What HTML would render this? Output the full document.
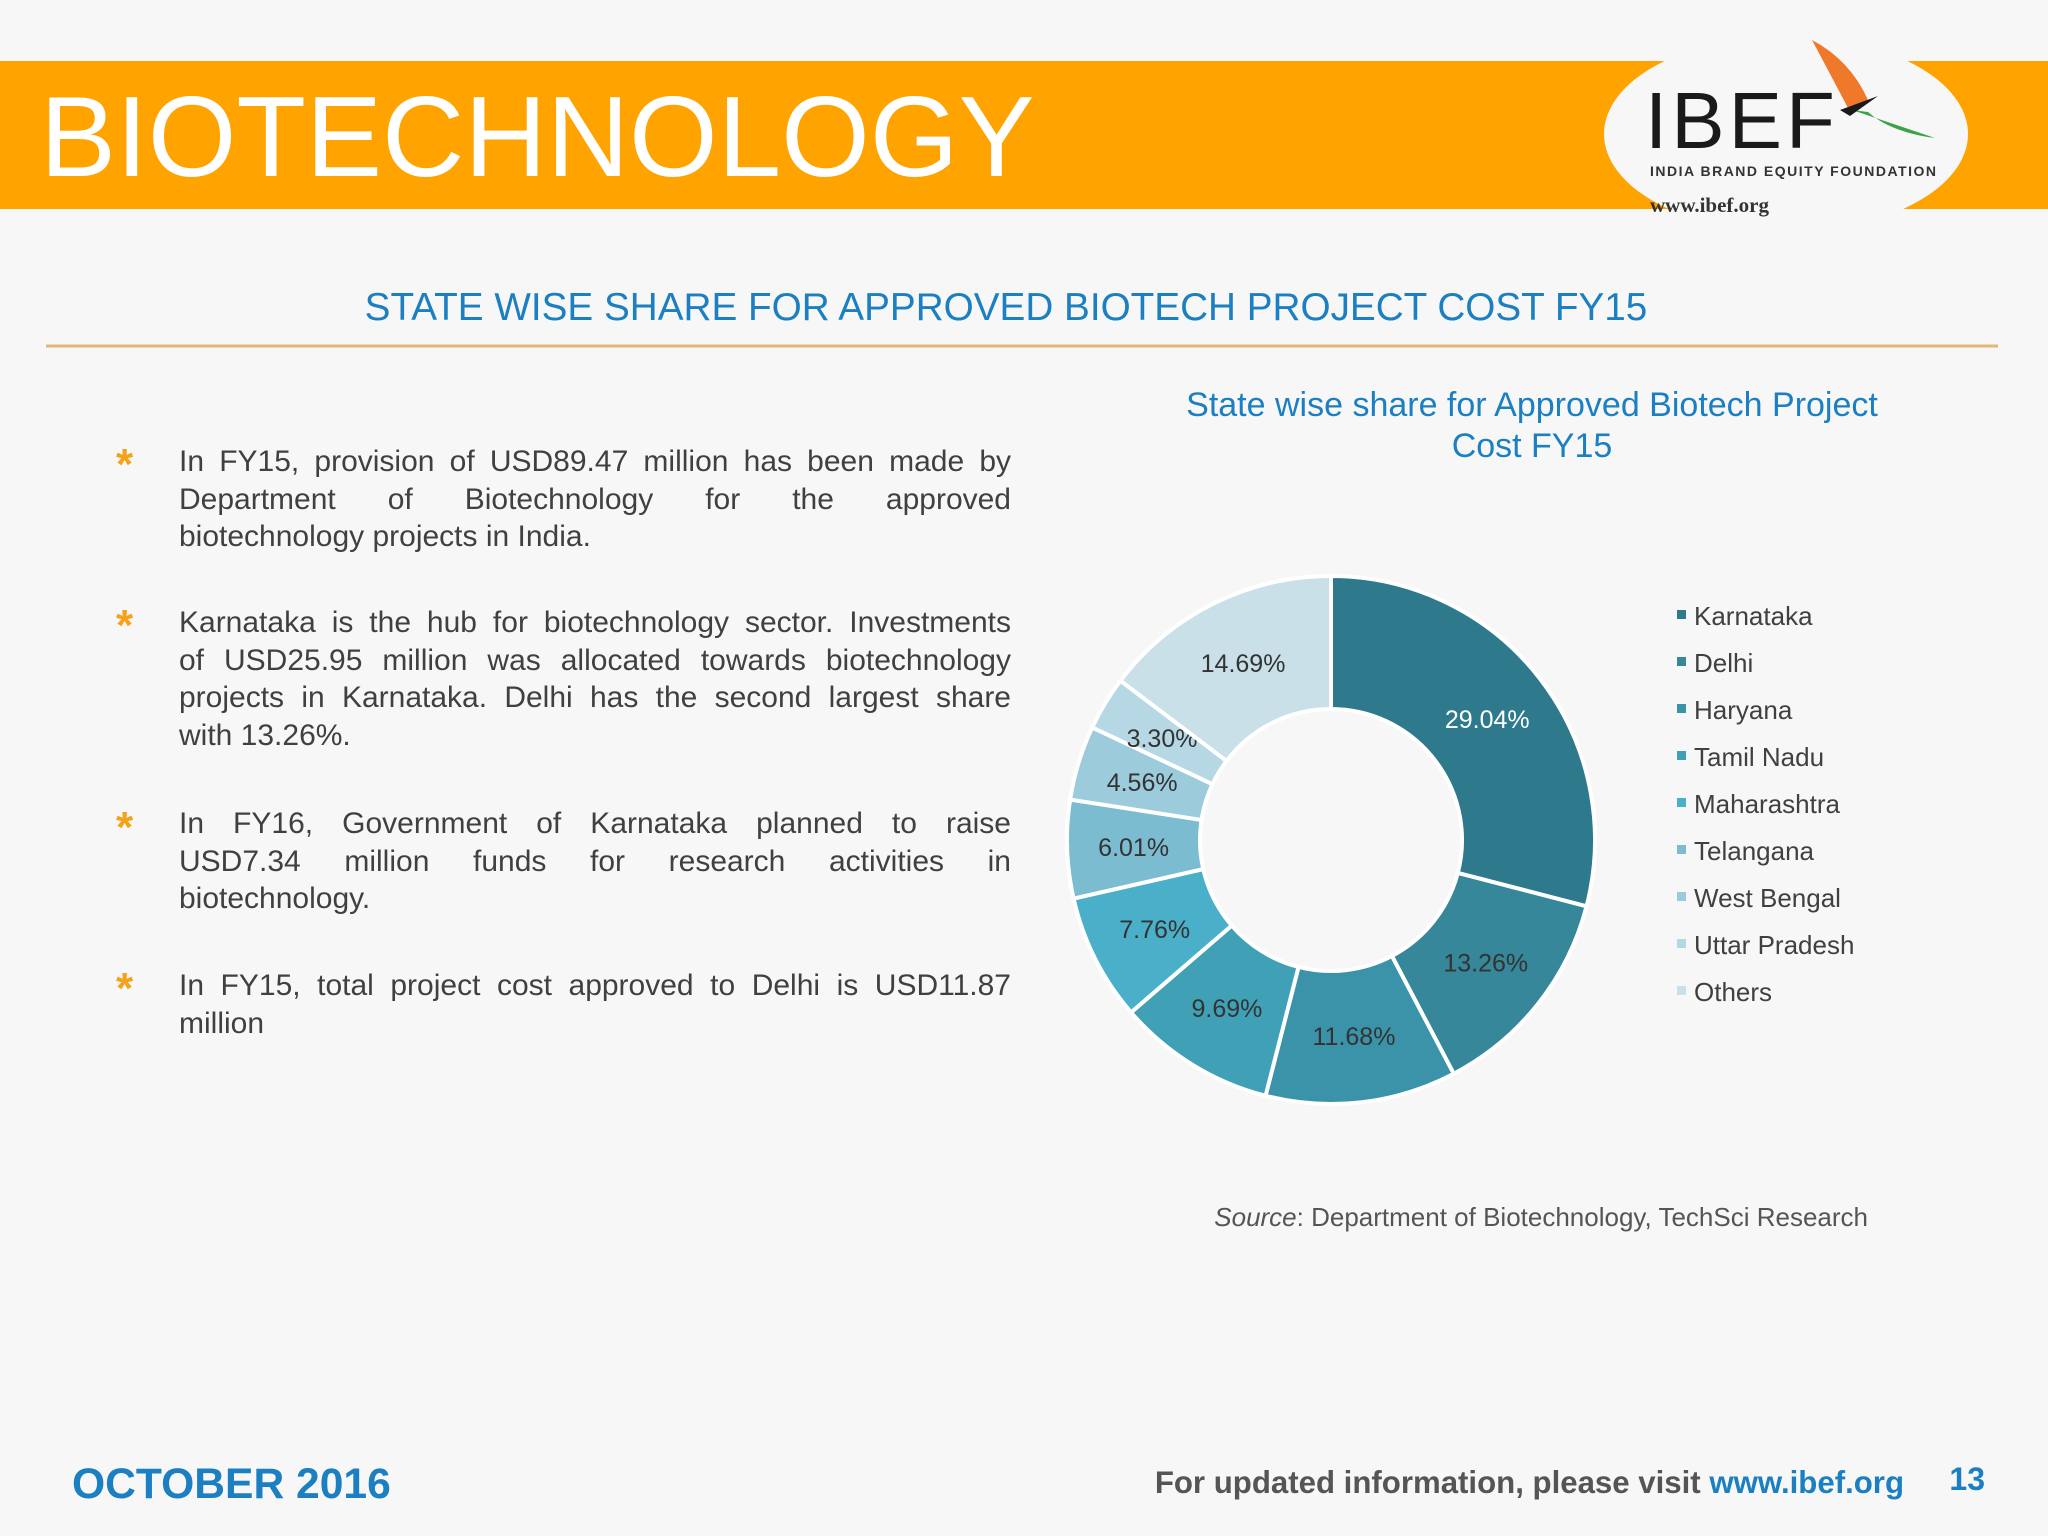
<!DOCTYPE html>
<html><head><meta charset="utf-8">
<style>
body{margin:0;background:#f7f7f8;}
#page{position:relative;width:2048px;height:1536px;overflow:hidden;background:#f7f7f8;font-family:"Liberation Sans",Arial,sans-serif;}
.bul{position:absolute;left:179px;width:832px;font-size:30px;line-height:37.5px;color:#404040;}
.bul div{text-align:justify;text-align-last:justify;white-space:nowrap;}
.bul div.last{text-align-last:left;}
.ast{position:absolute;left:116px;font-size:44px;color:#f5a21b;font-weight:bold;}
</style></head><body>
<div id="page">
<svg width="2048" height="1536" style="position:absolute;left:0;top:0">
  <rect x="0" y="61" width="2048" height="148" fill="#ffa300"/>
  <ellipse cx="1786" cy="134" rx="182" ry="98" fill="#f7f7f8"/>
  <text x="40" y="176" font-size="114" fill="#ffffff" font-family="Liberation Sans, sans-serif">BIOTECHNOLOGY</text>
  <text x="1645" y="148" font-size="80" fill="#1a1a1a" letter-spacing="4" font-family="Liberation Sans, sans-serif">IBEF</text>
  <path d="M1812 40 Q1850 60 1868 100 L1848 108 Q1828 70 1812 40Z" fill="#f0782a"/>
  <path d="M1852 110 L1935 138 Q1890 132 1868 112Z" fill="#3aa346"/>
  <path d="M1840 110 L1878 96 L1850 116Z" fill="#1a1a1a"/>
  <text x="1650" y="176" font-size="14" font-weight="bold" fill="#333" letter-spacing="1.5">INDIA BRAND EQUITY FOUNDATION</text>
  <text x="1650" y="212" font-size="21" font-weight="bold" fill="#333" font-family="Liberation Serif, serif">www.ibef.org</text>
  <text x="1006" y="320" font-size="38.7" fill="#1b7fc1" text-anchor="middle">STATE WISE SHARE FOR APPROVED BIOTECH PROJECT COST FY15</text>
  <line x1="46" y1="346" x2="1998" y2="346" stroke="#e2b874" stroke-width="3"/>
  <text x="1532" y="416" font-size="34" fill="#1b7fc1" text-anchor="middle">State wise share for Approved Biotech Project</text>
  <text x="1532" y="457" font-size="34" fill="#1b7fc1" text-anchor="middle">Cost FY15</text>
  <g id="donut"></g>
  <g id="legend"></g>
  <text x="1868" y="1226" font-size="26" fill="#555" text-anchor="end"><tspan font-style="italic">Source</tspan>: Department of Biotechnology, TechSci Research</text>
  <text x="72" y="1498" font-size="42.6" font-weight="bold" fill="#1b7fc1">OCTOBER 2016</text>
  <text x="1904" y="1493" font-size="31.2" font-weight="bold" fill="#555" text-anchor="end">For updated information, please visit <tspan fill="#1b7fc1">www.ibef.org</tspan></text>
  <text x="1985" y="1490" font-size="32" font-weight="bold" fill="#1b7fc1" text-anchor="end">13</text>
</svg>
<div class="ast" style="top:440px">*</div>
<div class="bul" style="top:443px"><div>In FY15, provision of USD89.47 million has been made by</div><div>Department of Biotechnology for the approved</div><div class="last">biotechnology projects in India.</div></div>
<div class="ast" style="top:601px">*</div>
<div class="bul" style="top:604px"><div>Karnataka is the hub for biotechnology sector. Investments</div><div>of USD25.95 million was allocated towards biotechnology</div><div>projects in Karnataka. Delhi has the second largest share</div><div class="last">with 13.26%.</div></div>
<div class="ast" style="top:803px">*</div>
<div class="bul" style="top:805px"><div>In FY16, Government of Karnataka planned to raise</div><div>USD7.34 million funds for research activities in</div><div class="last">biotechnology.</div></div>
<div class="ast" style="top:964px">*</div>
<div class="bul" style="top:967px"><div>In FY15, total project cost approved to Delhi is USD11.87</div><div class="last">million</div></div>
</div>
<script>
const categories = ["Karnataka","Delhi","Haryana","Tamil Nadu","Maharashtra","Telangana","West Bengal","Uttar Pradesh","Others"];
const shares = [29.04,13.26,11.68,9.69,7.76,6.01,4.56,3.30,14.69];
const labels = ["29.04%","13.26%","11.68%","9.69%","7.76%","6.01%","4.56%","3.30%","14.69%"];
const colors = ["#2e7a8c","#358799","#3a93a8","#40a0b6","#4aafc8","#7bbcd0","#9ccbdc","#b5d8e4","#c9e0e8"];
const NS="http://www.w3.org/2000/svg";
const cx=1331, cy=840, R=264, r=131;
const total=shares.reduce((a,b)=>a+b,0);
function ang(v){return v/total*2*Math.PI - Math.PI/2;}
function pt(a,rad){return [cx+rad*Math.cos(a), cy+rad*Math.sin(a)];}
const g=document.getElementById('donut');
let acc=0;
shares.forEach((v,i)=>{
  const a0=ang(acc), a1=ang(acc+v); acc+=v;
  const large=(a1-a0)>Math.PI?1:0;
  const p0=pt(a0,R),p1=pt(a1,R),q1=pt(a1,r),q0=pt(a0,r);
  const p=document.createElementNS(NS,'path');
  p.setAttribute('d',`M${p0[0]} ${p0[1]} A${R} ${R} 0 ${large} 1 ${p1[0]} ${p1[1]} L${q1[0]} ${q1[1]} A${r} ${r} 0 ${large} 0 ${q0[0]} ${q0[1]}Z`);
  p.setAttribute('fill',colors[i]);
  p.setAttribute('stroke','#ffffff');
  p.setAttribute('stroke-width','4');
  
  
  g.appendChild(p);
  const m=(a0+a1)/2, lp=pt(m,(R+r)/2);
  const t=document.createElementNS(NS,'text');
  t.setAttribute('x',lp[0]); t.setAttribute('y',lp[1]+9);
  t.setAttribute('text-anchor','middle'); t.setAttribute('font-size','25');
  t.setAttribute('fill', i===0?'#ffffff':'#333333');
  t.textContent=labels[i];
  
  
  g.appendChild(t);
});
const lg=document.getElementById('legend');
categories.forEach((c,i)=>{
  const y=616+i*47;
  const s=document.createElementNS(NS,'rect');
  s.setAttribute('x',1677); s.setAttribute('y',y-6); s.setAttribute('width',9); s.setAttribute('height',9);
  s.setAttribute('fill',colors[i]);
  
  
  lg.appendChild(s);
  const t=document.createElementNS(NS,'text');
  t.setAttribute('x',1694); t.setAttribute('y',y+9); t.setAttribute('font-size','26'); t.setAttribute('fill','#404040');
  t.textContent=c;
  
  
  lg.appendChild(t);
});
</script>
</body></html>
